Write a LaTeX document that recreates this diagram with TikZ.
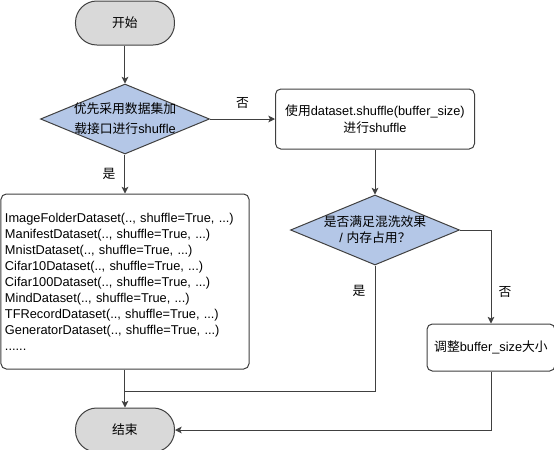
\documentclass[tikz,border=0pt]{standalone}
\usepackage{fontspec}
\setmainfont{Liberation Sans}
\newfontfamily\cjk{Noto Sans CJK SC}
\newcommand{\zh}[1]{{\cjk #1}}
\usepackage{tikz}
\usetikzlibrary{arrows.meta,positioning,shapes.geometric,calc}
\definecolor{termgray}{HTML}{D9D9D9}
\definecolor{decblue}{HTML}{B4C7E7}
\definecolor{edgegray}{HTML}{404040}

\begin{document}
\begin{tikzpicture}[
  font=\fontsize{9.6}{12}\selectfont,
  term/.style={draw=edgegray, fill=termgray, rounded corners=16pt, minimum width=74.25pt, minimum height=33pt, line width=0.75pt},
  dec/.style={draw=edgegray, fill=decblue, diamond, inner sep=0pt, minimum width=126.75pt, minimum height=52.5pt, line width=0.75pt},
  proc/.style={draw=edgegray, rounded corners=4pt, align=center, fill=white, line width=0.75pt},
  line/.style={draw=edgegray, line width=0.75pt},
  arr/.style={line, -{Stealth[length=5pt, width=5pt, inset=1.2pt]}}
]
\useasboundingbox (-93.75pt,17.25pt) rectangle (321.75pt,-320.25pt);

\node[term] (start) at (0,0) {\zh{开始}};
\node[dec, below=28.5pt of start, label={[align=center]center:\zh{优先采用数据集加}\\[3pt]\zh{载接口进行}shuffle}] (d1) {};
\node[proc, below=29.25pt of d1, minimum width=186pt, minimum height=131.25pt, text width=180pt, inner xsep=3pt, align=left] (lst)
  {ImageFolderDataset(.., shuffle=True, ...)\\
   ManifestDataset(.., shuffle=True, ...)\\
   MnistDataset(.., shuffle=True, ...)\\
   Cifar10Dataset(.., shuffle=True, ...)\\
   Cifar100Dataset(.., shuffle=True, ...)\\
   MindDataset(.., shuffle=True, ...)\\
   TFRecordDataset(.., shuffle=True, ...)\\
   GeneratorDataset(.., shuffle=True, ...)\\
   ......};
\node[term, below=28.5pt of lst] (stop) {\zh{结束}};
\node[proc, right=48.75pt of d1, minimum width=149.25pt, minimum height=45pt] (shuf)
  {\zh{使用}dataset.shuffle(buffer\_size)\\[1pt]\zh{进行}shuffle};
\node[dec, below=33.75pt of shuf, label={[align=center]center:\zh{是否满足混洗效果}\\/ \zh{内存占用？}}] (d2) {};
\node[proc, below=43.5pt of d2, xshift=87pt, minimum width=96pt, minimum height=35.25pt] (resize)
  {\zh{调整}buffer\_size\zh{大小}};

\coordinate (merge) at ($(lst.south)!0.58!(stop.north)$);

\draw[arr] (start) -- (d1);
\draw[arr] (d1) -- node[above=4pt]{\zh{否}} (shuf);
\draw[arr] (d1) -- node[left=3.5pt]{\zh{是}} (lst);
\draw[arr] (shuf) -- (d2);
\draw[arr] (d2.east) -| node[pos=0.83, right=2pt]{\zh{否}} (resize.north);
\draw[arr] (lst) -- (stop);
\draw[line] (d2.south) |- node[pos=0.1, left=3.5pt]{\zh{是}} (merge);
\draw[arr] (resize.south) |- (stop.east);
\end{tikzpicture}
\end{document}
